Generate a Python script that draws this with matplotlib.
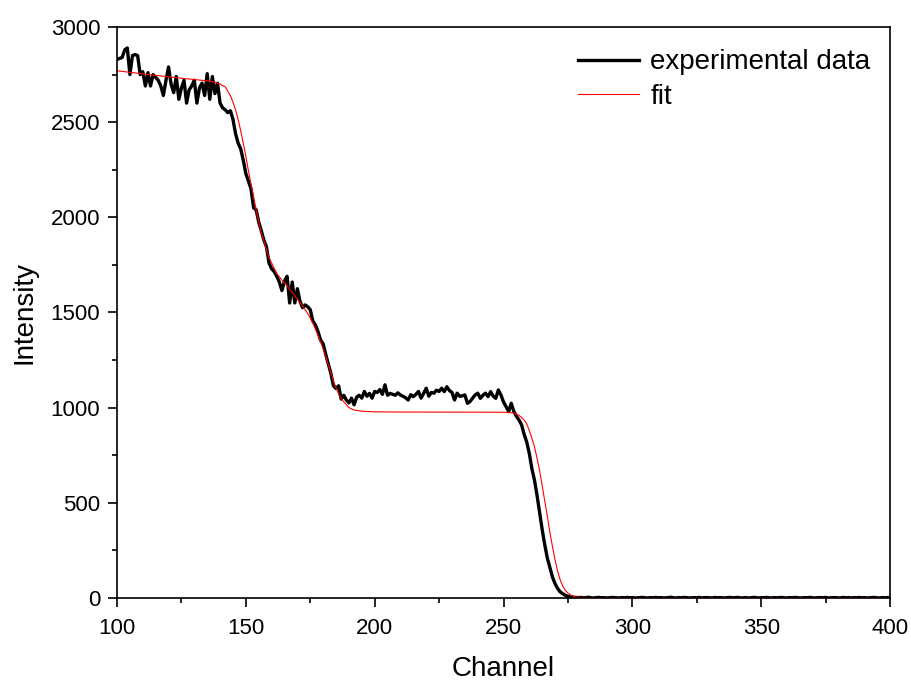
import numpy as np
import matplotlib
matplotlib.use('Agg')
import matplotlib.pyplot as plt
from matplotlib.ticker import MultipleLocator

plt.rcParams['font.family'] = ['Liberation Sans', 'DejaVu Sans']

# experimental spectrum, one value per channel (100 .. 400)
channels = np.arange(100, 401)

# channels 100-145 (first plateau)
exp_a = [2830, 2835, 2840, 2880, 2890, 2750, 2850, 2855, 2850, 2750,
         2765, 2690, 2760, 2690, 2750, 2735, 2720, 2690, 2640, 2720,
         2790, 2700, 2655, 2740, 2620, 2680, 2720, 2600, 2670, 2690,
         2720, 2600, 2680, 2705, 2640, 2755, 2620, 2740, 2650, 2705,
         2600, 2575, 2565, 2550, 2560, 2515]
# channels 146-186 (first and second edge)
exp_b = [2440, 2390, 2360, 2300, 2230, 2190, 2150, 2050, 2040, 1975,
         1930, 1880, 1845, 1760, 1730, 1715, 1690, 1660, 1615, 1665,
         1690, 1550, 1660, 1550, 1625, 1560, 1525, 1540, 1530, 1515,
         1455, 1435, 1400, 1355, 1335, 1280, 1230, 1180, 1115, 1100,
         1115]
# channels 187-254 (second plateau)
exp_c = [1045, 1065, 1040, 1025, 1050, 1015, 1055, 1065, 1050, 1085,
         1060, 1075, 1050, 1085, 1080, 1095, 1070, 1120, 1065, 1075,
         1070, 1065, 1078, 1066, 1060, 1052, 1040, 1068, 1058, 1070,
         1085, 1050, 1075, 1102, 1060, 1080, 1076, 1092, 1085, 1102,
         1084, 1110, 1090, 1080, 1040, 1076, 1060, 1062, 1067, 1023,
         1032, 1050, 1067, 1076, 1049, 1065, 1076, 1058, 1084, 1060,
         1049, 1093, 1067, 1030, 1005, 980, 1023, 980]
# channels 255-278 (last edge)
exp_d = [955, 935, 910, 860, 820, 760, 680, 620, 540, 450,
         360, 280, 210, 160, 110, 75, 50, 32, 22, 14,
         9, 6, 4, 3]
# channels 279-400 (background)
exp_e = [2, 3, 1, 2, 4, 1, 0, 2, 3, 1,
         2, 0, 1, 3, 2, 1, 0, 2, 1, 3,
         1, 2, 0, 1, 2, 3, 1, 0, 2, 1,
         3, 1, 2, 0, 1, 2, 4, 1, 0, 2,
         1, 3, 2, 0, 1, 2, 1, 3, 0, 2,
         2, 1, 0, 3, 1, 2, 1, 0, 2, 3,
         1, 2, 3, 0, 1, 2, 0, 1, 3, 2,
         0, 2, 1, 3, 1, 0, 2, 1, 2, 3,
         1, 0, 2, 1, 3, 2, 0, 1, 2, 1,
         3, 1, 0, 2, 2, 1, 3, 0, 1, 2,
         2, 0, 1, 3, 1, 2, 0, 2, 1, 3,
         1, 2, 0, 1, 2, 3, 1, 0, 2, 1,
         2, 1]
intensity = exp_a + exp_b + exp_c + exp_d + exp_e

# fitted curve
fit_channels = [100, 105, 110, 115, 120, 125, 130, 135, 138, 140,
                142, 144, 145, 146, 147, 148, 149, 150, 151, 152,
                153, 154, 155, 156, 157, 158, 159, 160, 162, 164,
                166, 168, 170, 172, 174, 176, 178, 180, 182, 184,
                186, 188, 190, 192, 195, 200, 210, 250, 254, 256,
                258, 259, 260, 261, 262, 263, 264, 265, 266, 267,
                268, 269, 270, 271, 272, 273, 274, 275, 276, 277,
                278, 280, 285, 290, 400]
fit_values = [2770, 2762, 2754, 2746, 2738, 2731, 2724, 2717, 2711, 2700,
              2685, 2640, 2605, 2565, 2515, 2455, 2390, 2320, 2245, 2175,
              2110, 2040, 1975, 1920, 1875, 1830, 1790, 1760, 1705, 1670,
              1640, 1605, 1570, 1535, 1495, 1445, 1380, 1310, 1225, 1140,
              1070, 1030, 1000, 988, 981, 978, 977, 976, 972, 960,
              935, 915, 880, 840, 795, 735, 670, 590, 510, 430,
              345, 270, 200, 140, 95, 62, 40, 26, 16, 10,
              6, 3, 1, 0, 0]

fig = plt.figure(figsize=(9.12, 6.82), dpi=100)
ax = fig.add_axes([0.1283, 0.1232, 0.8476, 0.8372])

ax.plot(channels, intensity, color='black', lw=2.4, label='experimental data')
ax.plot(fit_channels, fit_values, color='red', lw=0.8, label='fit')

ax.set_xlim(100, 400)
ax.set_ylim(0, 3000)
ax.xaxis.set_major_locator(MultipleLocator(50))
ax.xaxis.set_minor_locator(MultipleLocator(25))
ax.yaxis.set_major_locator(MultipleLocator(500))
ax.yaxis.set_minor_locator(MultipleLocator(250))
ax.tick_params(which='both', direction='out', top=False, right=False, width=1.2, labelsize=16)
ax.tick_params(which='major', length=6.5)
ax.tick_params(which='minor', length=3.5)
ax.tick_params(axis='x', which='major', pad=8)
ax.tick_params(axis='y', which='major', pad=5.5)
for s in ax.spines.values():
    s.set_linewidth(1.2)

ax.set_xlabel('Channel', fontsize=20, labelpad=12)
ax.set_ylabel('Intensity', fontsize=20, labelpad=9.5)

ax.legend(loc='upper right', frameon=False, fontsize=20, handlelength=2.2,
          handletextpad=0.4, labelspacing=0.3, borderaxespad=0.3,
          bbox_to_anchor=(1.0, 0.995))

fig.savefig('out.png', dpi=100)
